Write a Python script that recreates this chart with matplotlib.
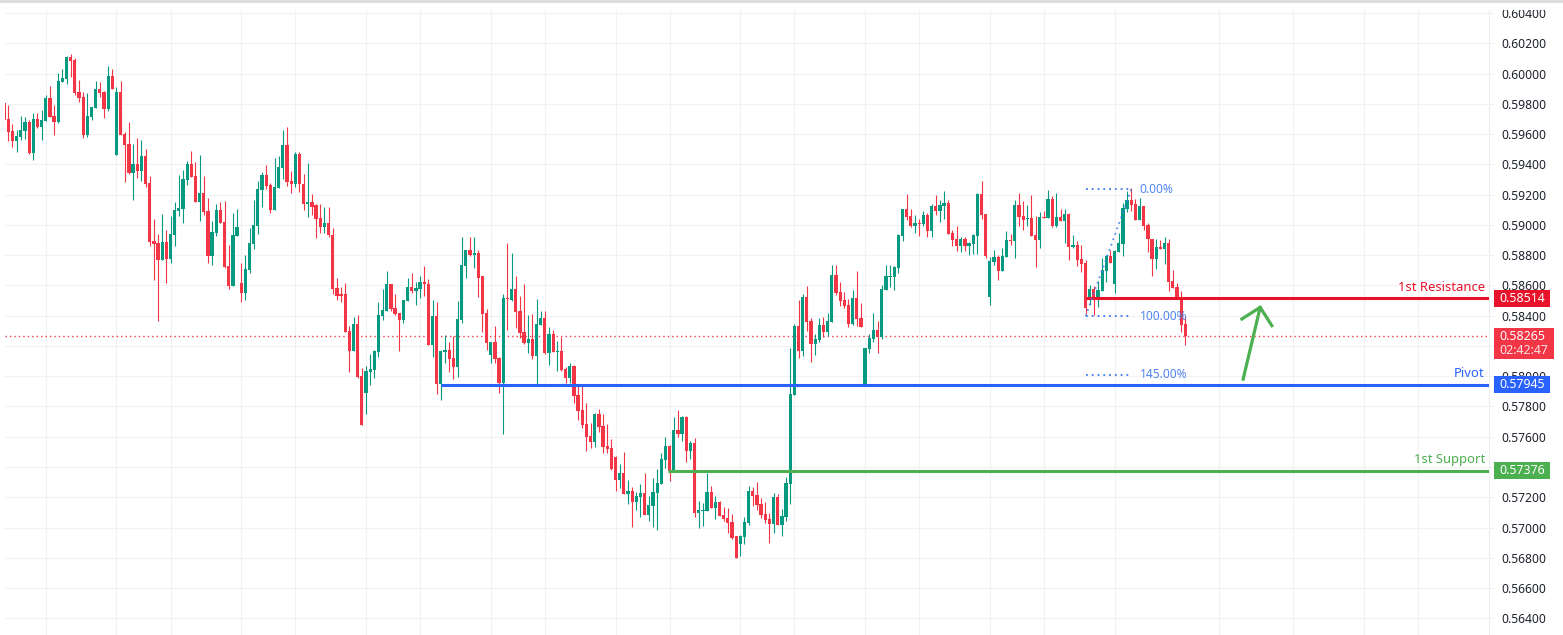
import numpy as np
import matplotlib
matplotlib.use('Agg')
import matplotlib.pyplot as plt
from matplotlib.patches import Rectangle
from matplotlib.transforms import blended_transform_factory

# candle values in points (1 point = 0.00001)
opens = [59803,59699,59620,59554,59580,59620,59680,59475,59699,59646,59686,59838,59719,59680,59944,59964,60110,60090,59878,59845,
         59594,59713,59772,59898,59878,59766,59984,59461,59878,59600,59534,59342,59402,59355,59455,59276,58892,58879,58767,58886,
         58773,58932,59091,59104,59296,59402,59322,59150,59210,59091,58793,58945,59097,59018,58727,58595,58926,58615,58548,58701,
         58873,58992,59230,59329,59263,59097,59243,59375,59527,59289,59269,59466,59271,59135,59154,59128,59048,58989,59015,58936,
         58586,58540,58540,58301,58169,58348,58004,57891,58030,58043,58162,58401,58434,58606,58453,58420,58374,58500,58592,58566,
         58579,58625,58612,58209,58401,57951,58162,58176,58123,58063,58374,58731,58831,58804,58817,58659,58420,58143,58229,58123,
         57957,58520,58506,58573,58434,58295,58222,58248,58136,58341,58387,58156,58281,58162,58169,58050,57990,58070,57878,57778,
         57685,57606,57566,57752,57672,57540,57526,57467,57314,57361,57222,57241,57169,57202,57228,57083,57142,57228,57288,57447,
         57540,57374,57646,57619,57732,57506,57559,57096,57109,57109,57235,57129,57169,57083,57063,57036,56943,56890,56937,57030,
         57241,57215,57155,57089,57056,57023,57202,57016,57069,57288,57875,58331,58165,58523,58364,58211,58238,58337,58291,58357,
         58668,58556,58503,58470,58344,58516,58384,57940,58178,58245,58304,58258,58569,58655,58655,58715,58927,59106,59059,58993,
         59013,59006,59066,58960,59126,59092,59126,59145,58947,58907,58861,58907,58861,58874,58927,59205,59073,58523,58755,58788,
         58695,58788,58900,58894,59132,59059,59039,59046,58933,58900,59053,59046,59172,58993,59053,59026,59073,58854,58867,58774,
         58748,58503,58576,58514,58563,58695,58794,58609,58821,58874,59106,59165,59139,59033,59126,59000,58907,58774,58854,58841,
         58880,58629,58589,58516,58344]
highs = [59803,59792,59666,59627,59719,59710,59693,59739,59739,59759,59858,59918,59792,60004,60030,60116,60129,60103,59957,59878,
         59871,59779,59951,59944,59885,60050,60030,59911,59951,59613,59680,59534,59574,59561,59501,59322,59038,58939,59071,58965,
         59058,59150,59329,59362,59422,59488,59415,59461,59322,59177,59025,59137,59150,59157,58866,59078,59104,58747,58800,58978,
         59164,59289,59349,59395,59276,59441,59455,59627,59646,59355,59481,59481,59333,59406,59201,59135,59135,59115,59115,58982,
         58652,58592,58619,58334,58394,58407,58057,58070,58149,58176,58487,58579,58692,58606,58540,58420,58506,58652,58685,58625,
         58659,58725,58639,58506,58487,58176,58275,58229,58268,58500,58923,58837,58917,58917,58831,58665,58447,58229,58334,58129,
         58540,58877,58817,58665,58533,58606,58407,58414,58513,58434,58434,58328,58308,58235,58262,58063,58090,58076,57938,57937,
         57824,57692,57758,57785,57752,57685,57586,57473,57420,57500,57314,57268,57235,57288,57361,57208,57328,57387,57493,57599,
         57546,57732,57778,57738,57738,57573,57593,57175,57162,57361,57275,57208,57175,57135,57129,57089,56943,56950,57069,57275,
         57268,57301,57195,57169,57096,57228,57222,57122,57334,58185,58344,58503,58543,58596,58384,58278,58384,58390,58417,58735,
         58735,58622,58556,58509,58569,58695,58483,58185,58278,58417,58364,58602,58735,58735,58728,58940,59106,59205,59106,59066,
         59039,59092,59079,59139,59198,59165,59225,59165,58967,58993,58920,58920,58887,58940,59212,59291,59073,58788,58834,58801,
         58847,58960,58940,59165,59212,59159,59132,59198,59059,59086,59092,59232,59192,59212,59106,59106,59079,58933,58894,58867,
         58768,58602,58596,58629,58781,58801,58834,58834,58944,59143,59225,59245,59172,59179,59126,59011,58907,58907,58900,58920,
         58907,58702,58615,58563,58397]
lows = [59693,59554,59514,59481,59561,59567,59468,59428,59640,59561,59686,59713,59594,59673,59944,59931,59977,59858,59812,59574,
        59580,59693,59772,59845,59706,59752,59898,59461,59594,59283,59336,59164,59309,59289,59250,58859,58634,58363,58767,58615,
        58747,58859,59058,59011,59263,59316,59150,59025,59064,58747,58734,58926,59011,58714,58575,58595,58926,58489,58502,58681,
        58839,58939,59117,59236,59078,59097,59243,59302,59256,59210,59250,59216,59095,59055,59062,58916,58949,58949,58919,58546,
        58506,58487,58295,58030,58169,57990,57680,57752,57944,57990,58129,58374,58434,58434,58407,58169,58354,58500,58553,58473,
        58520,58533,58209,58129,57885,57845,58090,58030,57984,57997,58354,58652,58791,58718,58526,58295,58176,58090,58090,57891,
        57620,58308,58500,58321,58255,58215,58156,58116,57938,58341,58149,58076,58162,58037,58037,57957,57957,57824,57712,57659,
        57506,57526,57533,57632,57493,57493,57381,57241,57261,57222,57155,57003,57116,57069,57083,57043,57003,56983,57288,57394,
        57308,57374,57599,57573,57434,57453,57069,56996,57010,57109,57129,57056,57076,57043,56963,56924,56798,56811,56890,57016,
        57142,57116,57063,57030,56897,56963,57016,56943,57043,57155,57875,58119,58132,58298,58092,58139,58225,58258,58264,58357,
        58536,58463,58450,58324,58337,58331,58324,57933,58152,58225,58152,58245,58569,58589,58569,58682,58894,59033,58986,58947,
        58927,58993,58920,58920,59066,59020,59039,58940,58861,58827,58821,58827,58801,58808,58808,59039,58781,58470,58735,58635,
        58695,58788,58867,58781,58993,58967,58993,58927,58721,58847,59046,59046,58986,58986,59026,58880,58768,58847,58728,58688,
        58410,58470,58404,58457,58563,58622,58748,58549,58821,58794,59086,59092,59033,59033,58967,58821,58662,58708,58841,58741,
        58563,58582,58516,58291,58205]
closes = [59693,59613,59554,59587,59627,59680,59475,59699,59646,59693,59838,59713,59680,59951,59971,60110,60083,59871,59838,59594,
          59719,59779,59898,59871,59766,59984,59898,59878,59594,59527,59342,59402,59355,59455,59269,58886,58873,58767,58886,58773,
          58939,59097,59111,59302,59402,59316,59150,59210,59084,58793,58952,59097,59011,58720,58595,58932,58985,58548,58707,58879,
          58998,59236,59329,59256,59097,59250,59382,59527,59283,59269,59468,59267,59135,59154,59121,59042,58989,59015,58930,58579,
          58533,58533,58295,58169,58348,57997,57680,58037,58050,58169,58407,58440,58606,58447,58414,58374,58506,58592,58566,58586,
          58625,58606,58209,58401,57951,58169,58176,58116,58063,58381,58738,58831,58804,58817,58652,58414,58222,58229,58116,57957,
          58520,58513,58573,58427,58288,58222,58248,58136,58348,58387,58156,58281,58162,58169,58043,57990,58070,57871,57771,57679,
          57599,57566,57752,57665,57533,57520,57387,57314,57361,57222,57241,57169,57208,57228,57083,57149,57235,57294,57453,57540,
          57374,57646,57619,57732,57506,57559,57096,57116,57116,57235,57129,57169,57076,57056,57030,56930,56798,56943,57036,57241,
          57208,57149,57083,57049,57023,57202,57016,57076,57294,57880,58331,58165,58523,58357,58211,58245,58337,58291,58364,58668,
          58549,58496,58463,58344,58516,58377,58324,58185,58251,58304,58258,58576,58662,58662,58721,58933,59106,59053,58993,59013,
          59006,59066,58960,59126,59092,59132,59145,58940,58900,58861,58907,58861,58880,58933,59205,59066,58794,58761,58788,58695,
          58794,58900,58894,59132,59053,59033,59046,58927,58900,59053,59046,59172,58993,59053,59026,59073,58854,58867,58768,58741,
          58448,58576,58514,58569,58702,58794,58748,58827,58880,59112,59165,59132,59033,59126,58993,58907,58774,58854,58841,58880,
          58622,58582,58516,58337,58265]

price_ticks = [0.564, 0.566, 0.568, 0.570, 0.572, 0.574, 0.576, 0.578, 0.580, 0.582,
               0.584, 0.586, 0.588, 0.590, 0.592, 0.594, 0.596, 0.598, 0.600, 0.602, 0.604]
time_grid = [9, 26, 39, 56, 69, 86, 99, 116, 129, 146, 159, 176, 189, 206, 219, 236, 249, 266, 291, 309, 326, 339]

resistance = 0.58514
pivot = 0.57945
support = 0.57376
last_price = 0.58265
countdown = '02:42:47'

# fib drawing: bar range and the three levels
fib_bars = [259, 270]
fib_levels = [0.59234, 0.58395, 0.58011]
fib_labels = ['0.00%', '100.00%', '145.00%']

# hand drawn arrow (bar, price)
arrow_start = (296.9, 0.57981)
arrow_tip = (301.0, 0.58455)
arrow_left = (296.6, 0.58378)
arrow_right = (303.8, 0.58334)

RED = '#F23645'
GREEN = '#089981'
W, H = 1563, 635
DPI = 100
plt.rcParams['font.family'] = ['Noto Sans', 'DejaVu Sans']

fig = plt.figure(figsize=(W / DPI, H / DPI), dpi=DPI, facecolor='white')
ax = fig.add_axes([5 / W, 0, (1489 - 5) / W, 1])

x = np.arange(-1, len(opens) - 1)
o, h, l, c = [np.array(v) / 1e5 for v in (opens, highs, lows, closes)]
colors = np.where(c >= o, GREEN, RED)

ax.vlines(x, l, h, colors=colors, linewidth=0.8, zorder=3)
ax.bar(x, np.maximum(np.abs(c - o), 0.00002), bottom=np.minimum(o, c), width=0.78, color=colors, linewidth=0, zorder=3)

ax.set_xlim((5 - 8.33) / 4.159, (1489 - 8.33) / 4.159)
# 15133 px per price unit, 0.604 sits at y=13
ax.set_ylim(0.604 - (H - 13) / 15133, 0.604 + 13 / 15133)

ax.set_xticks(time_grid)
ax.set_xticklabels([])
ax.yaxis.tick_right()
ax.set_yticks(price_ticks)
ax.set_yticklabels(['%.5f' % p for p in price_ticks])
ax.tick_params(axis='x', length=0)
ax.tick_params(axis='y', length=2.9, width=0.7, color='#eeeeee', labelsize=8.7, labelcolor='#1e222d', pad=5.8)
ax.grid(True, color='#f1f1f1', linewidth=0.8, zorder=0)
ax.set_axisbelow(True)
for name in ('top', 'left', 'bottom'):
    ax.spines[name].set_visible(False)
ax.spines['right'].set_color('#eeeeee')
ax.spines['right'].set_linewidth(0.7)

# last price line
ax.axhline(last_price, color=RED, linewidth=1, linestyle=(0, (1, 2.2)), zorder=2)

# support / resistance levels
levels = [(resistance, 259, '#E8132B', '1st Resistance'),
          (pivot, 104, '#2962FF', 'Pivot'),
          (support, 158.7, '#4CAF50', '1st Support')]
tag_tf = blended_transform_factory(fig.transFigure, ax.transData)
half = 8.4 / 15133
for level, start, color, name in levels:
    ax.plot([start, ax.get_xlim()[1]], [level, level], color=color, linewidth=2.2, solid_capstyle='butt', zorder=4)
    ax.annotate(name, (355, level), xytext=(0, 3.5), textcoords='offset points', ha='right', va='bottom',
                color=color, fontsize=9.4, zorder=5)
    ax.add_patch(Rectangle((1494 / W, level - half), 56 / W, 2 * half, transform=tag_tf, clip_on=False,
                           facecolor=color, edgecolor='none', zorder=6))
    ax.text(1522 / W, level, '%.5f' % level, transform=tag_tf, color='white', fontsize=8.9, fontweight='bold',
            ha='center', va='center', zorder=7, clip_on=False)

# last price tag, two rows
tag_top = 0.604 - (327.7 - 13) / 15133
tag_bot = 0.604 - (359 - 13) / 15133
ax.add_patch(Rectangle((1494 / W, tag_bot), 60 / W, tag_top - tag_bot, transform=tag_tf, clip_on=False,
                       facecolor=RED, edgecolor='none', zorder=6))
ax.text(1522 / W, 0.604 - (336.5 - 13) / 15133, '%.5f' % last_price, transform=tag_tf, color='white', fontsize=8.9,
        fontweight='bold', ha='center', va='center', zorder=7, clip_on=False)
ax.text(1524 / W, 0.604 - (350.5 - 13) / 15133, countdown, transform=tag_tf, color='#fde3e6', fontsize=8.9,
        ha='center', va='center', zorder=7, clip_on=False)

# fib levels
FIB = '#3f78f2'
ax.plot(fib_bars[::-1], fib_levels[:2], color=FIB, linewidth=1.3, linestyle=(0, (1, 2.2)), alpha=0.85, zorder=4)
for level, label in zip(fib_levels, fib_labels):
    ax.plot(fib_bars, [level, level], color=FIB, linewidth=1.3, linestyle=(0, (1, 2.2)), zorder=4)
    ax.text(272, level, label, color=FIB, fontsize=8.6, ha='left', va='center', zorder=4, alpha=0.9)

# green arrow
ax.plot([arrow_start[0], arrow_tip[0]], [arrow_start[1], arrow_tip[1]], color='#4CAF50', linewidth=2.3, zorder=5)
ax.plot([arrow_left[0], arrow_tip[0], arrow_right[0]], [arrow_left[1], arrow_tip[1], arrow_right[1]],
        color='#4CAF50', linewidth=2.3, zorder=5)

# top strip of the screenshot, clips the first tick label
fig.add_artist(Rectangle((0, 1 - 10 / H), 1, 10 / H, transform=fig.transFigure, facecolor='white', edgecolor='none', zorder=10))
fig.add_artist(Rectangle((0, 1 - 2.5 / H), 1, 2.5 / H, transform=fig.transFigure, facecolor='#dddddd', edgecolor='none', zorder=11))

fig.savefig('out.png', dpi=DPI, facecolor='white')
